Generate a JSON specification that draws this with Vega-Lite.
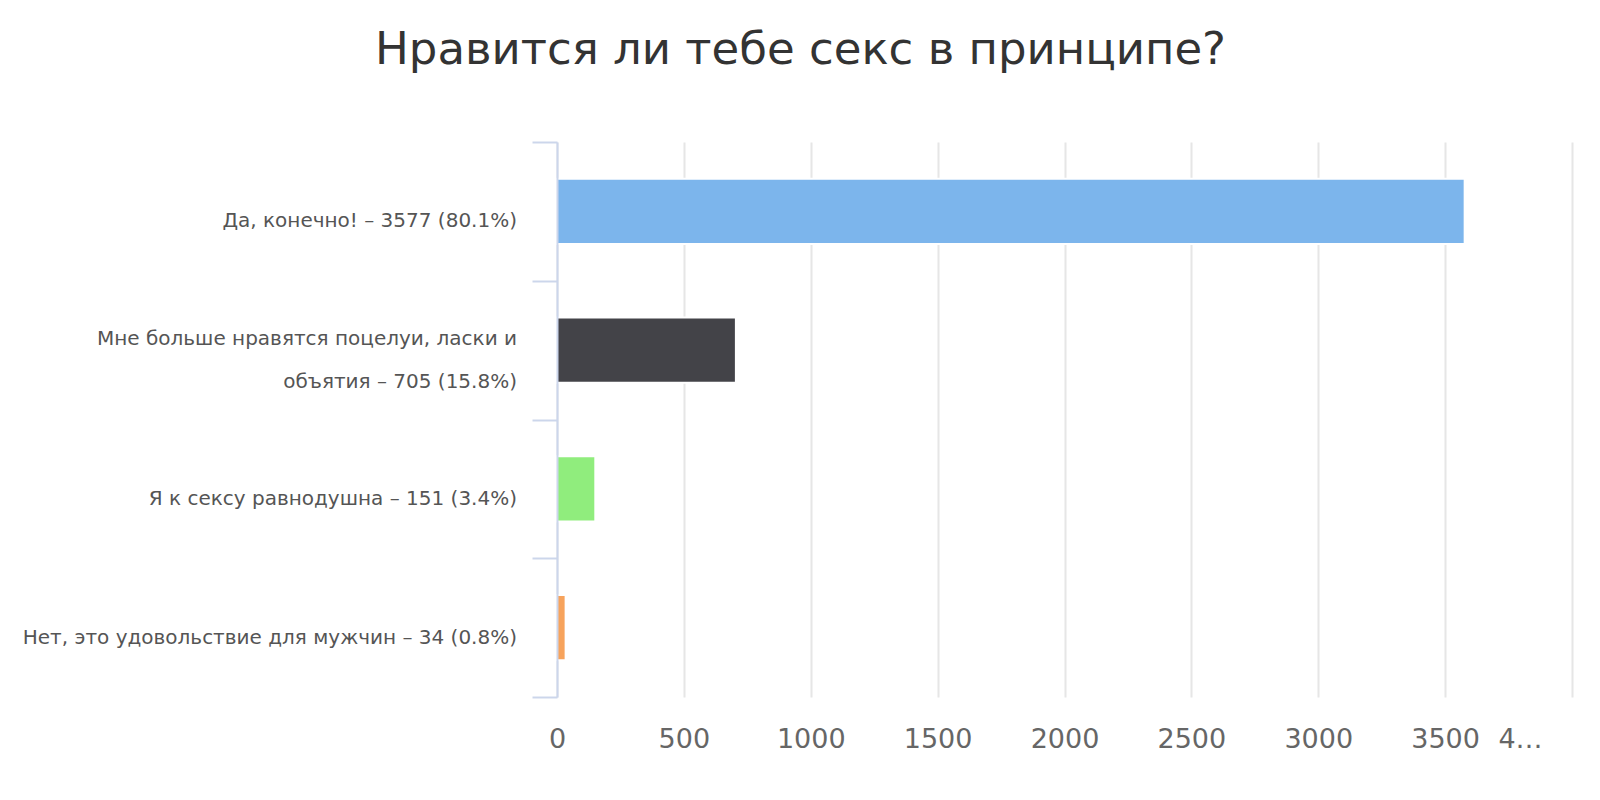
{
  "$schema": "https://vega.github.io/schema/vega-lite/v6.json",
  "width": 1015,
  "height": 555,
  "autosize": "none",
  "padding": {"left": 557, "top": 142, "right": 28, "bottom": 103},
  "background": "white",
  "title": {
    "text": "Нравится ли тебе секс в принципе?",
    "font": "DejaVu Sans",
    "fontSize": 45,
    "fontWeight": "normal",
    "color": "#333333",
    "anchor": "middle",
    "frame": "group",
    "dx": -264,
    "baseline": "alphabetic",
    "offset": 32
  },
  "data": {
    "values": [
      {"label": "Да, конечно! – 3577 (80.1%)", "count": 3577},
      {"label": "Мне больше нравятся поцелуи, ласки и\nобъятия – 705 (15.8%)", "count": 705},
      {"label": "Я к сексу равнодушна – 151 (3.4%)", "count": 151},
      {"label": "Нет, это удовольствие для мужчин – 34 (0.8%)", "count": 34}
    ]
  },
  "layer": [
    {
      "mark": {"type": "bar", "height": {"band": 0.47}, "stroke": "white", "strokeWidth": 2},
      "encoding": {
        "y": {
          "field": "label",
          "type": "nominal",
          "sort": null,
          "scale": {"paddingInner": 0, "paddingOuter": 0},
          "axis": {
            "title": null,
            "grid": false,
            "labels": false,
            "zindex": 1,
            "tickBand": "extent",
            "tickSize": 25,
            "tickColor": "#ccd6eb",
            "tickWidth": 2,
            "domainColor": "#ccd6eb",
            "domainWidth": 2
          }
        },
        "x": {
          "field": "count",
          "type": "quantitative",
          "scale": {"domain": [0, 4000], "nice": false},
          "axis": {
            "orient": "bottom",
            "title": null,
            "grid": true,
            "gridColor": "#e6e6e6",
            "gridWidth": 2,
            "ticks": false,
            "domain": false,
            "values": [0, 500, 1000, 1500, 2000, 2500, 3000, 3500, 4000],
            "format": "d",
            "labelFont": "DejaVu Sans",
            "labelFontSize": 27,
            "labelColor": "#666666",
            "labelPadding": 29,
            "labelFlush": false,
            "labelOverlap": false,
            "labelExpr": "datum.value == 4000 ? '' : datum.label"
          }
        },
        "color": {
          "field": "label",
          "type": "nominal",
          "sort": null,
          "scale": {"range": ["#7cb5ec", "#434348", "#90ed7d", "#f7a35c"]},
          "legend": null
        }
      }
    },
    {
      "transform": [{"filter": "indexof(datum.label, '\\n') < 0"}],
      "mark": {"type": "text", "align": "right", "baseline": "middle", "dx": -40, "dy": 10, "font": "DejaVu Sans", "fontSize": 20, "color": "#555555"},
      "encoding": {
        "y": {"field": "label", "type": "nominal", "sort": null},
        "x": {"datum": 0, "type": "quantitative", "axis": null},
        "text": {"field": "label"}
      }
    },
    {
      "transform": [{"filter": "indexof(datum.label, '\\n') >= 0"}],
      "mark": {"type": "text", "align": "right", "baseline": "middle", "dx": -40, "dy": -11, "lineBreak": "\n", "lineHeight": 43, "font": "DejaVu Sans", "fontSize": 20, "color": "#555555"},
      "encoding": {
        "y": {"field": "label", "type": "nominal", "sort": null},
        "x": {
          "datum": 0,
          "type": "quantitative",
          "axis": {
            "orient": "bottom",
            "title": null,
            "grid": false,
            "ticks": false,
            "domain": false,
            "values": [4000],
            "labelFont": "DejaVu Sans",
            "labelFontSize": 27,
            "labelColor": "#666666",
            "labelPadding": 29,
            "labelFlush": false,
            "labelOverlap": false,
            "labelOffset": -52,
            "labelExpr": "'4…'"
          }
        },
        "text": {"field": "label"}
      }
    }
  ],
  "resolve": {"axis": {"x": "independent"}},
  "config": {"view": {"stroke": null}}
}
